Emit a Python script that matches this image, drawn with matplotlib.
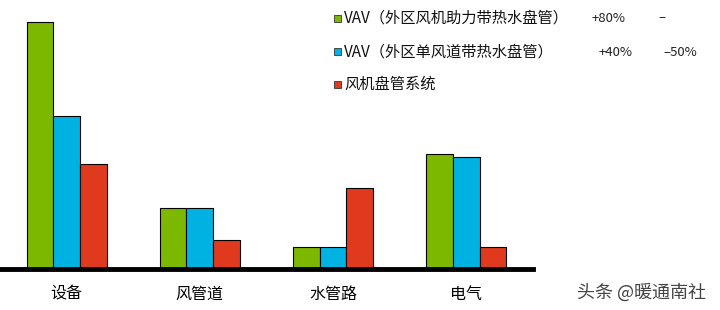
import numpy as np
import matplotlib
matplotlib.use('Agg')
from matplotlib import pyplot as plt
from matplotlib.patches import Rectangle

plt.rcParams['font.family'] = ['Noto Sans CJK SC', 'DejaVu Sans']

categories = ['设备', '风管道', '水管路', '电气']
series_names = ['VAV（外区风机助力带热水盘管）', 'VAV（外区单风道带热水盘管）', '风机盘管系统']
vav_fan = [24.7, 6.1, 2.2, 11.5]
vav_single = [15.3, 6.1, 2.2, 11.2]
fan_coil = [10.5, 2.9, 8.1, 2.2]
notes_a = ['+80%', '+40%']
notes_b = ['–', '–50%']
colors = ['#7cb800', '#00b2e2', '#e03a1e']

W, H = 720, 310
fig = plt.figure(figsize=(7.2, 3.1), dpi=100)
ax = fig.add_axes([0.0, 0.132, 0.74, 0.868])

x = np.arange(len(categories))
w = 0.2
for i, vals in enumerate([vav_fan, vav_single, fan_coil]):
    ax.bar(x + (i - 1) * w, vals, w, color=colors[i], edgecolor='black', linewidth=0.8)

ax.set_xlim(-0.5, 3.5)
ax.set_ylim(0, 26.9)
for s in ['top', 'right', 'left']:
    ax.spines[s].set_visible(False)
ax.spines['bottom'].set_linewidth(3.5)
ax.set_yticks([])
ax.set_xticks(x)
ax.set_xticklabels(categories, fontsize=11.5, fontweight='medium')
ax.tick_params(axis='x', length=0, pad=12)

# legend, drawn by hand
rows_y = [18, 52, 84]
for i, name in enumerate(series_names):
    yy = 1 - rows_y[i] / H
    fig.patches.append(Rectangle((334 / W, yy - 3.5 / H), 7 / W, 7 / H, transform=fig.transFigure,
                                 facecolor=colors[i], edgecolor='#333333', linewidth=0.6))
    fig.text(344 / W, yy, name, fontsize=11, va='center', color='#111111')

for i in range(2):
    yy = 1 - rows_y[i] / H
    fig.text((592 + 7 * i) / W, yy, notes_a[i], fontsize=9.5, va='center', color='#222222')
    fig.text((658 + 5 * i) / W, yy, notes_b[i], fontsize=9.5, va='center', color='#222222')

fig.text(577 / W, 1 - 292 / H, '头条 @暖通南社', fontsize=13, va='center', color='#444444')

fig.savefig('out.png', dpi=100, facecolor='white')
